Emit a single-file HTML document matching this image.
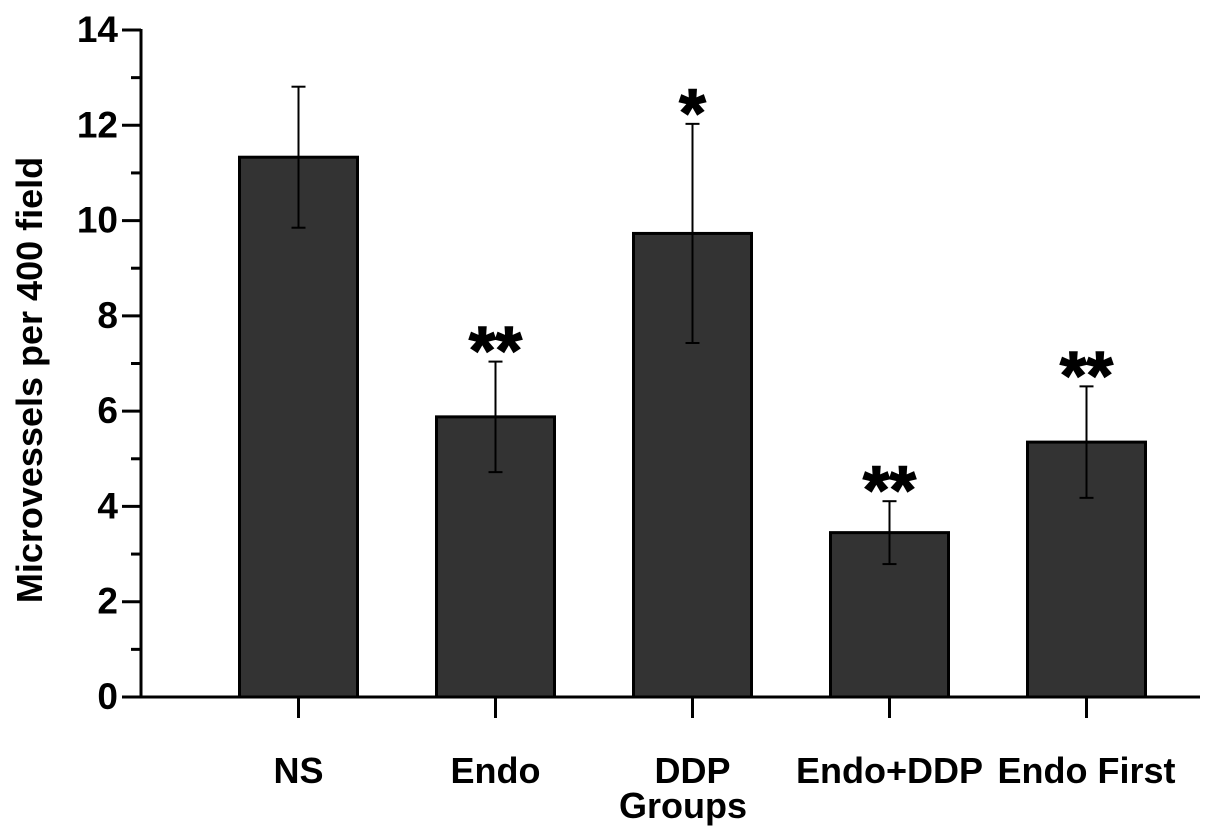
<!DOCTYPE html>
<html><head><meta charset="utf-8"><style>
body{margin:0;background:#fff;}
svg{display:block;font-family:"Liberation Sans",Arial,sans-serif;font-weight:bold;}
</style></head><body>
<svg id="chart" width="1205" height="837">
<g id="plot"></g>
</svg>
<script>
const categories=["NS","Endo","DDP","Endo+DDP","Endo First"];
const means=[11.33,5.88,9.73,3.45,5.35];
const errs=[1.48,1.16,2.3,0.66,1.17];
const stars=["","**","*","**","**"];
const yTicks=[0,2,4,6,8,10,12,14];
const NS="http://www.w3.org/2000/svg";
const g=document.getElementById('plot');
const x0=141,x1=1200,y0=697,yTop=30,yMax=14;
const y=v=>y0-(y0-yTop)*v/yMax;
const cx=i=>298.5+i*197;
const bw=118;
function mk(t,a,p){const e=document.createElementNS(NS,t);for(const k in a)e.setAttribute(k,a[k]);(p||g).appendChild(e);return e;}
categories.forEach((c,i)=>{
 const r=mk('rect',{x:cx(i)-bw/2,y:y(means[i]),width:bw,height:y0-y(means[i]),fill:'#333',stroke:'#000','stroke-width':3});
 
 
 const hi=y(means[i]+errs[i]),lo=y(means[i]-errs[i]);
 const eb=mk('g',{stroke:'#000','stroke-width':2});
 
 
 mk('line',{x1:cx(i),x2:cx(i),y1:hi,y2:lo},eb);
 mk('line',{x1:cx(i)-7,x2:cx(i)+7,y1:hi,y2:hi},eb);
 mk('line',{x1:cx(i)-7,x2:cx(i)+7,y1:lo,y2:lo},eb);
 if(stars[i]){const s=mk('text',{x:cx(i),y:hi+12,'text-anchor':'middle','font-size':68,fill:'#000',stroke:'#000','stroke-width':1.5});s.textContent=stars[i];
 
 }
 mk('line',{x1:cx(i),x2:cx(i),y1:y0,y2:y0+21,stroke:'#000','stroke-width':3});
 const t=mk('text',{x:cx(i),y:y0+86,'text-anchor':'middle','font-size':36,fill:'#000'});t.textContent=c;
 
 
});
mk('line',{x1:x0,x2:x0,y1:yTop-1,y2:y0+1.5,stroke:'#000','stroke-width':3});
mk('line',{x1:x0-19,x2:x1,y1:y0,y2:y0,stroke:'#000','stroke-width':3});
yTicks.forEach(v=>{
 mk('line',{x1:x0-19,x2:x0,y1:y(v),y2:y(v),stroke:'#000','stroke-width':3});
 if(v<14)mk('line',{x1:x0-10,x2:x0,y1:y(v+1),y2:y(v+1),stroke:'#000','stroke-width':3});
 const t=mk('text',{x:x0-23,y:y(v)+12,'text-anchor':'end','font-size':37,fill:'#000'});t.textContent=v;
 
 
});
const xt=mk('text',{x:683,y:818,'text-anchor':'middle','font-size':36,fill:'#000'});xt.textContent='Groups';


const yt=mk('text',{x:0,y:0,'text-anchor':'middle','font-size':36,fill:'#000',transform:'translate(42,380) rotate(-90)'});yt.textContent='Microvessels per 400 field';


</script>
</body></html>
